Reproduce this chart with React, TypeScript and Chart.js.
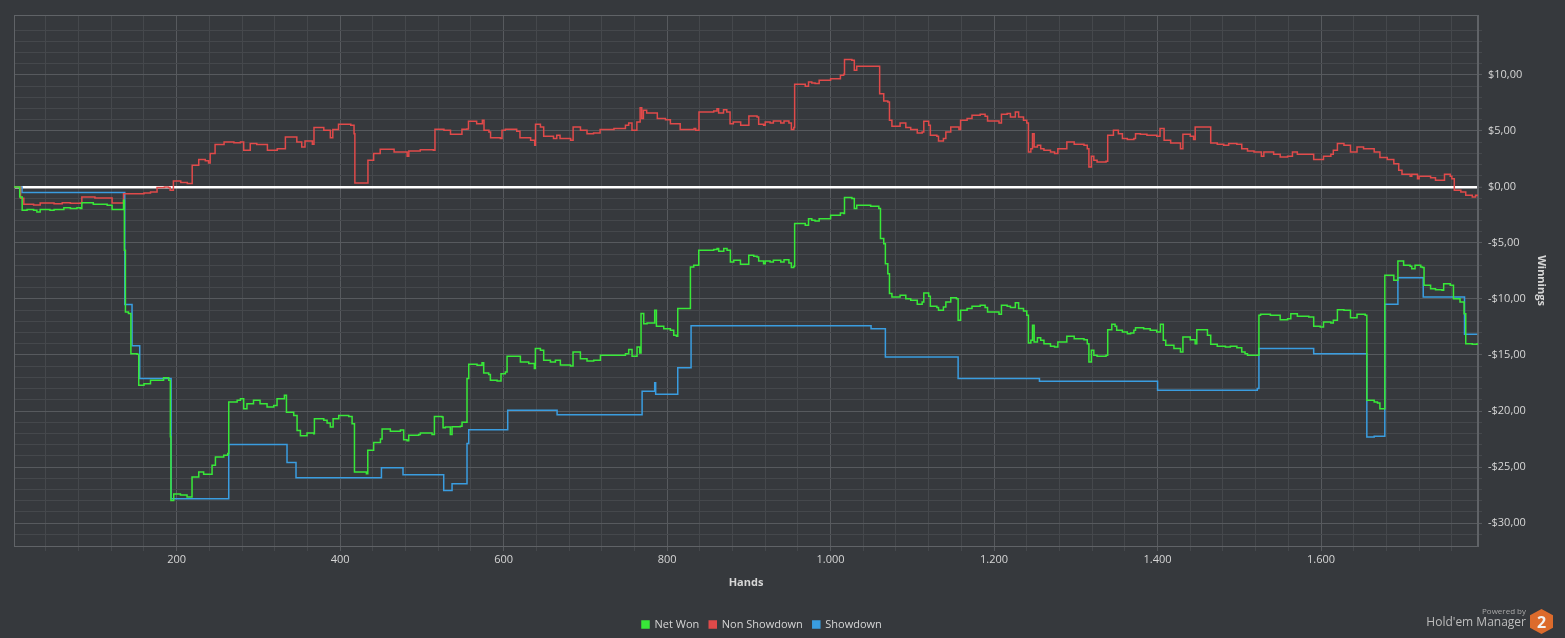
import React, { useEffect, useRef } from "react";
import { Chart, registerables } from "chart.js";

Chart.register(...registerables);

// ---------- data (hand number, winnings in $) ----------
const seriesNames = ["Net Won", "Non Showdown", "Showdown"];
const seriesColors = ["#38e838", "#e04a4a", "#3a9de0"];

const netWon: [number, number][] = [
  [1,0],[5,0],[8,-0.9],[11,-2.08],[17,-2.02],[25,-2.08],[29,-2.23],[33,-2.02],[45,-2.08],[50,-2.02],[62,-1.85],[70,-1.93],[78,-1.85],[82,-1.93],[84,-1.4],[94,-1.4],[98,-1.55],[115,-1.64],[121,-2.02],[133,-2.02],[135,-1.19],[136,-5.65],[137.3,-11.16],[141,-11.3],[144,-14.88],[151.5,-14.94],[153.6,-17.7],[160,-17.56],[168,-17.26],[176,-17.26],[184,-17.02],[190.3,-17.26],[192.3,-22.3],[193,-27.98],[196.4,-27.4],[204.6,-27.5],[212.7,-27.68],[218.8,-25.9],[227,-25.45],[233,-25.65],[239,-25.65],[243.3,-24.85],[247.4,-24.1],[257.6,-23.96],[262.5,-23.8],[263.7,-19.2],[274,-19.05],[278,-18.9],[282,-19.8],[286,-19.35],[294,-19.05],[302,-19.35],[310.6,-19.64],[318.8,-19.5],[322.8,-18.9],[331.8,-18.6],[334.3,-20.1],[343.2,-20.4],[347.3,-21.73],[351.4,-22.2],[359.5,-21.96],[367.7,-22.02],[368.5,-20.7],[380,-20.83],[384,-21.07],[388,-21.43],[391.4,-20.7],[398.3,-20.4],[410.5,-20.5],[414.6,-21.13],[417.5,-25.45],[432.1,-25.6],[433.8,-23.5],[441,-22.8],[449.3,-22.5],[451.3,-21.6],[457.4,-21.6],[461.4,-21.8],[473.7,-21.7],[477.7,-22.56],[481.8,-22.65],[483.9,-22.17],[496.1,-22.1],[498.1,-21.96],[512.4,-22.1],[515.3,-20.5],[524.6,-20.54],[525.9,-21.5],[528.7,-21.43],[534.8,-22.1],[536.9,-21.4],[547.1,-21.37],[549.1,-21.0],[553.2,-21.0],[555.2,-17.1],[557.3,-15.83],[567.5,-15.92],[573.6,-15.7],[575.6,-16.6],[581.7,-16.73],[583.8,-17.26],[592,-17.32],[595.2,-17.32],[596.8,-16.67],[602.1,-16.52],[604.2,-15.12],[616.4,-15.12],[620.5,-15.63],[630.7,-15.77],[637.6,-16.2],[638.8,-14.43],[645,-14.58],[649,-15.48],[657.2,-15.63],[663.3,-15.48],[669.4,-15.9],[681.7,-15.98],[684.9,-14.73],[693.9,-15.33],[702,-15.54],[710.2,-15.48],[718.4,-15.03],[734.7,-15.03],[749,-14.88],[753,-14.52],[757.1,-15.12],[763.2,-14.29],[766.5,-14.82],[768.1,-11.3],[771.4,-12.2],[775.5,-12.14],[783.6,-12.14],[784.8,-11.0],[786.9,-12.44],[795.9,-12.65],[804,-12.8],[808.1,-13.24],[811.4,-13.33],[813,-10.86],[826.4,-10.86],[828.5,-7.14],[832.6,-6.99],[838.7,-5.65],[857,-5.59],[861.1,-5.5],[863.1,-5.74],[869.3,-5.5],[873.3,-5.65],[877.4,-6.7],[881.5,-6.55],[889.7,-6.9],[897.8,-6.9],[899.9,-6.1],[906,-6.19],[910,-6.25],[912,-6.61],[918,-6.85],[920,-6.61],[926,-6.7],[930,-6.55],[939,-6.7],[943,-6.49],[949,-6.79],[952,-7.2],[955,-7.08],[956,-3.27],[967,-3.27],[969,-3.42],[973,-2.83],[977,-2.98],[981,-3.04],[986,-2.83],[1000,-2.53],[1012,-2.32],[1016,-2.38],[1017,-0.95],[1026,-1.04],[1029,-1.93],[1032,-1.64],[1049,-1.73],[1059,-1.93],[1061,-4.61],[1065,-5.06],[1067,-6.85],[1070,-7.74],[1072,-9.52],[1075,-9.82],[1081,-9.82],[1085,-9.67],[1092,-9.97],[1098,-10.12],[1106,-10.48],[1112,-10.27],[1114,-9.46],[1120,-9.76],[1122,-10.65],[1130,-10.77],[1132,-11.01],[1138,-10.71],[1141,-10.27],[1147,-9.88],[1154,-9.97],[1156,-11.9],[1159,-11.01],[1167,-10.86],[1173,-10.65],[1183,-10.57],[1189,-10.77],[1192,-11.16],[1206,-11.37],[1209,-10.56],[1216,-10.65],[1220,-10.77],[1226,-10.33],[1230,-10.86],[1236,-11.07],[1240,-11.46],[1242,-13.93],[1245,-13.69],[1247,-12.35],[1249,-13.84],[1253,-13.45],[1257,-13.69],[1261,-13.99],[1269,-14.23],[1274,-14.29],[1278,-13.84],[1287,-13.84],[1289,-13.33],[1298,-13.54],[1310,-13.63],[1314,-13.99],[1316,-15.63],[1319,-14.58],[1322,-15.03],[1326,-15.12],[1337,-15.03],[1339,-12.74],[1344,-12.26],[1348,-12.44],[1350,-12.8],[1357,-12.95],[1363,-13.1],[1367,-13.04],[1371,-12.8],[1373,-12.56],[1383,-12.65],[1391,-12.8],[1399,-12.95],[1403,-12.95],[1403.5,-12.26],[1407,-13.69],[1410,-14.14],[1420,-14.43],[1428,-14.73],[1431,-13.39],[1440,-13.63],[1446,-13.99],[1448,-12.74],[1457,-12.74],[1461,-13.24],[1465,-14.05],[1473,-14.23],[1483,-14.29],[1489,-14.23],[1497,-14.35],[1503,-14.73],[1507,-14.88],[1510,-15.03],[1522,-15.03],[1524,-11.46],[1526,-11.37],[1538,-11.46],[1550,-11.85],[1559,-11.76],[1563,-11.31],[1571,-11.55],[1585,-11.61],[1591,-12.44],[1599,-12.5],[1603,-12.05],[1612,-12.14],[1615,-11.9],[1620,-10.95],[1628,-11.01],[1636,-11.67],[1644,-11.37],[1654,-11.46],[1656,-19.05],[1665,-19.2],[1669,-19.29],[1672,-19.79],[1677,-19.79],[1678,-7.89],[1689,-8.33],[1693,-8.33],[1694,-6.61],[1697,-6.61],[1701,-6.99],[1709,-7.08],[1711,-7.29],[1715,-6.99],[1722,-7.14],[1724,-7.2],[1726,-8.78],[1734,-9.08],[1740,-9.17],[1748,-9.23],[1750,-8.63],[1758,-8.78],[1762,-9.97],[1770,-10.27],[1775,-11.31],[1777,-13.99],[1785,-14.05],[1791,-13.93],
];

const nonShowdown: [number, number][] = [
  [1,0],[5,0],[9,-1.0],[13,-1.55],[25,-1.6],[33,-1.43],[50,-1.5],[60,-1.4],[70,-1.45],[82,-1.43],[84,-0.89],[100,-0.98],[119,-0.98],[121,-1.43],[133,-1.43],[135,-0.6],[150,-0.6],[160,-0.55],[168,-0.45],[176,-0.05],[185,0],[190,-0.05],[192,-0.3],[196,0.54],[205,0.4],[213,0.3],[219,1.93],[227,2.44],[235,2.35],[239,2.14],[241,2.98],[247,3.78],[258,4.02],[270,3.95],[278,4.02],[282,3.27],[290,3.87],[298,3.78],[311,3.27],[323,3.42],[333,4.46],[347,4.02],[353,3.57],[357,4.1],[366,3.81],[368,5.3],[380,5.06],[388,4.4],[391,5.12],[398,5.6],[413,5.5],[417,4.76],[418,0.36],[433,0.36],[434,2.38],[441,2.98],[449,3.36],[466,3.13],[482,2.74],[484,3.21],[498,3.33],[514,3.27],[516,5.15],[527,5.06],[535,4.7],[547,4.7],[549,5.15],[555,5.18],[557,5.86],[567,5.65],[574,5.95],[576,5.06],[582,4.91],[584,4.4],[596,4.32],[598,5.06],[602,5.15],[616,4.97],[620,4.4],[633,4.17],[638,3.72],[639,5.6],[645,5.36],[649,4.52],[661,4.32],[665,4.61],[669,4.32],[682,4.17],[685,5.36],[694,5.06],[702,4.76],[710,4.82],[718,5.12],[735,5.21],[749,5.51],[753,5.71],[757,5.06],[763,5.8],[767,7.08],[769,6.1],[771,6.85],[775,6.61],[787,6.61],[788,6.1],[798,6.01],[804,5.65],[816,5.12],[833,5.21],[835,5.06],[839,6.7],[857,6.79],[861,6.99],[863,6.61],[869,6.9],[873,6.7],[877,5.65],[881,5.8],[890,5.51],[898,5.51],[900,6.34],[910,6.25],[912,5.6],[918,5.51],[920,5.8],[926,5.71],[930,5.89],[939,5.71],[943,5.89],[949,5.71],[952,5.12],[955,5.3],[956,9.17],[967,9.17],[969,8.99],[973,9.38],[977,9.29],[981,9.23],[986,9.52],[1000,9.67],[1012,9.97],[1016,10.06],[1017,11.37],[1026,11.31],[1029,10.42],[1032,10.77],[1059,10.77],[1060,8.33],[1065,7.68],[1070,7.59],[1072,5.95],[1075,5.42],[1081,5.42],[1085,5.71],[1092,5.3],[1098,5.12],[1106,4.82],[1112,4.91],[1114,5.86],[1120,5.51],[1122,4.61],[1130,4.52],[1132,4.11],[1138,4.32],[1141,4.91],[1147,5.36],[1157,5.12],[1159,5.95],[1167,6.1],[1173,6.4],[1183,6.49],[1189,6.31],[1192,5.89],[1206,5.71],[1209,6.49],[1216,6.55],[1220,6.25],[1226,6.7],[1230,6.25],[1236,5.95],[1240,5.71],[1242,3.13],[1245,3.42],[1247,4.76],[1249,3.57],[1253,3.72],[1257,3.42],[1261,3.27],[1269,3.13],[1274,2.98],[1278,3.42],[1287,3.42],[1289,4.02],[1298,3.81],[1310,3.72],[1314,3.42],[1316,1.79],[1319,2.74],[1322,2.38],[1326,2.23],[1337,2.29],[1339,4.61],[1346,5.06],[1352,4.76],[1357,4.32],[1363,4.23],[1371,4.32],[1373,4.76],[1379,4.7],[1387,4.61],[1399,4.52],[1403,5.21],[1408,4.17],[1416,3.93],[1428,3.42],[1431,4.7],[1440,4.52],[1444,4.23],[1446,5.36],[1457,5.36],[1465,3.93],[1473,3.81],[1481,3.72],[1487,3.87],[1497,3.81],[1503,3.42],[1510,3.21],[1518,3.13],[1526,3.13],[1527,2.74],[1530,3.13],[1542,2.92],[1550,2.68],[1559,2.74],[1565,3.13],[1571,2.92],[1583,2.92],[1591,2.44],[1599,2.44],[1603,2.74],[1612,2.92],[1615,3.27],[1620,3.87],[1628,3.72],[1636,3.13],[1644,3.57],[1652,3.42],[1665,3.13],[1672,2.62],[1681,2.44],[1689,2.08],[1695,1.49],[1699,1.13],[1709,0.95],[1711,1.13],[1718,0.74],[1720,0.95],[1734,0.83],[1740,0.6],[1750,0.6],[1751,1.13],[1758,0.95],[1760,0.74],[1763,-0.3],[1771,-0.45],[1777,-0.74],[1785,-0.89],[1789,-0.74],[1791,-0.83],
];

const showdown: [number, number][] = [
  [1,0],[5,0],[10.8,-0.5],[135,-0.5],[136.5,-10.5],[144,-10.5],[145.4,-14.17],[153.6,-14.17],[154.8,-17.1],[191.5,-17.1],[193.2,-27.83],[262.5,-27.83],[263.7,-23.0],[333,-23.0],[335,-24.6],[344.4,-24.6],[346,-25.95],[449.3,-25.95],[450.5,-25.06],[475.7,-25.06],[476.9,-25.7],[525.9,-25.7],[526.7,-27.1],[534.8,-27.1],[536.9,-26.5],[553.2,-26.5],[555.2,-22.9],[557.3,-21.67],[603.4,-21.67],[605,-19.94],[663.3,-19.94],[665.4,-20.33],[767.3,-20.33],[769.4,-18.24],[783.6,-18.24],[784.8,-17.47],[786,-18.5],[811.4,-18.5],[813,-16.13],[827.7,-16.13],[829.3,-12.38],[1048,-12.38],[1049.5,-12.65],[1065,-12.65],[1067,-15.18],[1154,-15.18],[1156,-17.1],[1253.5,-17.1],[1255.5,-17.35],[1398,-17.35],[1400,-18.15],[1520,-18.15],[1522,-18.0],[1524,-14.43],[1589,-14.43],[1591,-14.88],[1654,-14.88],[1656,-22.32],[1665,-22.25],[1677,-22.25],[1678,-10.48],[1693,-10.48],[1694,-8.1],[1724,-8.1],[1725,-9.82],[1774,-9.82],[1775.5,-13.15],[1791,-13.15],
];

// ---------- axes ----------
const xMin = 1;
const xMax = 1792;
const xMinorStep = 40;
const xMajorStep = 200;
const yMin = -32.05;
const yMax = 15.35;
const yGridMin = -31;
const yGridMax = 14;
const yMinorStep = 1;
const yMajorStep = 5;
const xTitle = "Hands";
const yTitle = "Winnings";

const BG = "#36393d";
const GRID_MINOR = "#45484c";
const GRID_MAJOR = "#575a5e";
const BORDER = "#606367";
const TEXT = "#d6d6d6";
const FONT = "'Open Sans', 'Noto Sans', sans-serif";

function fmtHands(v: number): string {
  if (v >= 1000) return `${Math.floor(v / 1000)}.${String(v % 1000).padStart(3, "0")}`;
  return String(v);
}
function fmtMoney(v: number): string {
  return `${v < 0 ? "-" : ""}$${Math.abs(v)},00`;
}

const framePlugin = {
  id: "frame",
  beforeDatasetsDraw(chart: any) {
    const { ctx, chartArea } = chart;
    ctx.save();
    ctx.strokeStyle = BORDER;
    ctx.lineWidth = 1;
    ctx.strokeRect(chartArea.left + 0.5, chartArea.top + 0.5, chartArea.right - chartArea.left - 1, chartArea.bottom - chartArea.top);
    ctx.restore();
  },
};

const legendShift = {
  id: "legendShift",
  afterLayout(chart: any) {
    const lg = chart.legend;
    if (!lg || !lg.lineWidths) return;
    const pad = lg.options.labels.padding;
    const cx = (lg.left + pad + lg.right - lg.lineWidths[0]) / 2;
    const dx = 642 - cx;
    lg.left += dx;
    lg.right += dx;
    lg.top += 2;
    lg.bottom += 2;
  },
};

export default function App() {
  const ref = useRef<HTMLCanvasElement | null>(null);

  useEffect(() => {
    document.body.style.margin = "0";
    document.body.style.background = BG;
    const canvas = ref.current;
    if (!canvas) return;
    const toPts = (arr: [number, number][]) => arr.map(([x, y]) => ({ x, y }));
    const sets = [netWon, nonShowdown, showdown];

    const chart = new Chart(canvas, {
      type: "line",
      data: {
        datasets: sets.map((s, i) => ({
          label: seriesNames[i],
          data: toPts(s),
          borderColor: seriesColors[i],
          backgroundColor: seriesColors[i],
          borderWidth: 1.5,
          pointRadius: 0,
          pointHoverRadius: 0,
          stepped: "before",
          fill: false,
        })),
      },
      options: {
        animation: false,
        responsive: false,
        parsing: false,
        normalized: true,
        layout: { padding: { left: 14, top: 15, right: 13, bottom: 0 } },
        plugins: {
          tooltip: { enabled: false },
          legend: {
            position: "bottom",
            labels: {
              color: TEXT,
              font: { family: FONT, size: 11 },
              boxWidth: 7,
              boxHeight: 7,
              padding: 10,
            },
          },
        },
        scales: {
          x: {
            type: "linear",
            min: xMin,
            max: xMax,
            afterBuildTicks: (scale: any) => {
              const t: { value: number }[] = [];
              for (let v = xMinorStep; v < xMax; v += xMinorStep) t.push({ value: v });
              scale.ticks = t;
            },
            afterFit: (scale: any) => {
              scale.height = 61;
            },
            ticks: {
              autoSkip: false,
              maxRotation: 0,
              padding: 2,
              color: TEXT,
              font: { family: FONT, size: 11 },
              callback: (v: any) => (Number(v) % xMajorStep === 0 ? fmtHands(Number(v)) : ""),
            },
            grid: {
              color: (c: any) => (c.tick && c.tick.value % xMajorStep === 0 ? GRID_MAJOR : GRID_MINOR),
              tickColor: (c: any) => (c.tick && c.tick.value % xMajorStep === 0 ? GRID_MAJOR : GRID_MINOR),
              tickLength: 5,
              lineWidth: 1,
            },
            border: { color: BORDER, width: 1 },
            title: {
              display: true,
              text: xTitle,
              color: TEXT,
              font: { family: FONT, size: 11, weight: "bold" },
              padding: { top: 4, bottom: 18 },
            },
          },
          y: {
            type: "linear",
            position: "right",
            min: yMin,
            max: yMax,
            afterBuildTicks: (scale: any) => {
              const t: { value: number }[] = [];
              for (let v = yGridMin; v <= yGridMax; v += yMinorStep) t.push({ value: v });
              scale.ticks = t;
            },
            afterFit: (scale: any) => {
              scale.width = 74;
            },
            ticks: {
              autoSkip: false,
              padding: 6,
              color: TEXT,
              font: { family: FONT, size: 11 },
              callback: (v: any) => (Number(v) % yMajorStep === 0 ? fmtMoney(Number(v)) : ""),
            },
            grid: {
              color: (c: any) => {
                const v = c.tick ? c.tick.value : 1;
                if (v === 0) return "#ffffff";
                return v % yMajorStep === 0 ? GRID_MAJOR : GRID_MINOR;
              },
              lineWidth: (c: any) => (c.tick && c.tick.value === 0 ? 2.5 : 1),
              tickColor: (c: any) => (c.tick && c.tick.value % yMajorStep === 0 ? GRID_MAJOR : GRID_MINOR),
              tickWidth: 1,
              tickLength: 4,
            },
            border: { color: BORDER, width: 1 },
            title: {
              display: true,
              text: yTitle,
              color: TEXT,
              font: { family: FONT, size: 11, weight: "bold" },
              padding: { top: 4, bottom: 4 },
            },
          },
        },
      } as any,
      plugins: [framePlugin, legendShift],
    });
    return () => chart.destroy();
  }, []);

  return (
    <div style={{ position: "relative", width: 1565, height: 638, background: BG, overflow: "hidden" }}>
      <canvas ref={ref} width={1565} height={638} style={{ display: "block", width: 1565, height: 638 }} />
      <div
        style={{
          position: "absolute",
          right: 39,
          top: 606,
          fontFamily: FONT,
          fontSize: 8,
          color: "#a8a8a8",
          textAlign: "right",
          lineHeight: "10px",
        }}
      >
        Powered by
      </div>
      <div
        style={{
          position: "absolute",
          right: 39,
          top: 614,
          fontFamily: FONT,
          fontSize: 12,
          color: "#bdbdbd",
          lineHeight: "16px",
          whiteSpace: "nowrap",
        }}
      >
        Hold'em Manager
      </div>
      <svg width={23} height={25} viewBox="0 0 23 25" style={{ position: "absolute", left: 1530, top: 609 }}>
        <polygon points="11.5,0 23,6.2 23,18.8 11.5,25 0,18.8 0,6.2" fill="#dc6b2c" />
        <text x="11.5" y="19" textAnchor="middle" fontFamily={FONT} fontWeight="bold" fontSize="16" fill="#f2f2f2">
          2
        </text>
      </svg>
    </div>
  );
}
